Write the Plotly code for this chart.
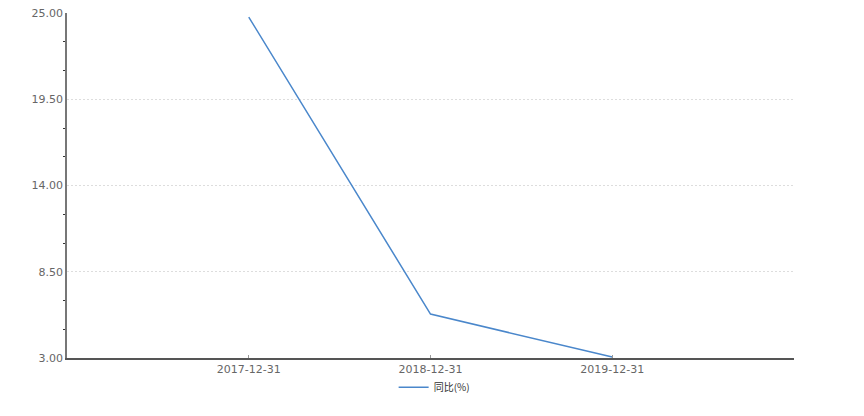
import plotly.graph_objects as go

categories = ["2017-12-31", "2018-12-31", "2019-12-31"]
values = [24.74, 5.80, 3.06]
y_ticks = [3.00, 8.50, 14.00, 19.50, 25.00]
series_name = "同比(%)"

minor_ticks = []
for a, b in zip(y_ticks[:-1], y_ticks[1:]):
    step = (b - a) / 3
    minor_ticks += [a + step, a + 2 * step]

fig = go.Figure()
fig.add_trace(go.Scatter(
    x=[0, 1, 2], y=values, mode="lines", name=series_name,
    line=dict(color="#4a87cb", width=1.5),
))

fig.update_layout(
    width=848, height=400,
    margin=dict(l=59, r=62, t=5, b=50, autoexpand=False),
    plot_bgcolor="white", paper_bgcolor="white",
    font=dict(family="DejaVu Sans, Noto Sans CJK SC", size=11, color="#666666"),
    showlegend=True,
    legend=dict(orientation="h", x=0.505, xanchor="center", y=-0.043, yanchor="top",
                bgcolor="rgba(0,0,0,0)",
                font=dict(size=10, color="#333333", family="Noto Sans CJK SC, DejaVu Sans"),
                itemwidth=30),
)
fig.update_xaxes(
    range=[-1, 3], tickmode="array", tickvals=[0, 1, 2], ticktext=categories,
    showgrid=False, zeroline=False, showline=True, linecolor="#555555", linewidth=1.5,
    ticks="inside", ticklen=3, tickcolor="#999999", automargin=False,
    tickfont=dict(size=11, color="#666666"),
)
fig.update_yaxes(
    range=[3, 25], tickmode="array", tickvals=y_ticks,
    ticktext=[f"{v:.2f}" for v in y_ticks],
    showgrid=True, gridcolor="#dddddd", griddash="2px,2px", gridwidth=1,
    zeroline=False, showline=True, linecolor="#777777", linewidth=1.5,
    ticks="", ticklabelstandoff=0, automargin=False, ticklabeloverflow="allow",
    tickfont=dict(size=11, color="#666666"),
    minor=dict(tickmode="array", tickvals=minor_ticks, ticks="outside", ticklen=2,
               tickcolor="#333333", showgrid=False),
)

fig.write_html("out.html")
